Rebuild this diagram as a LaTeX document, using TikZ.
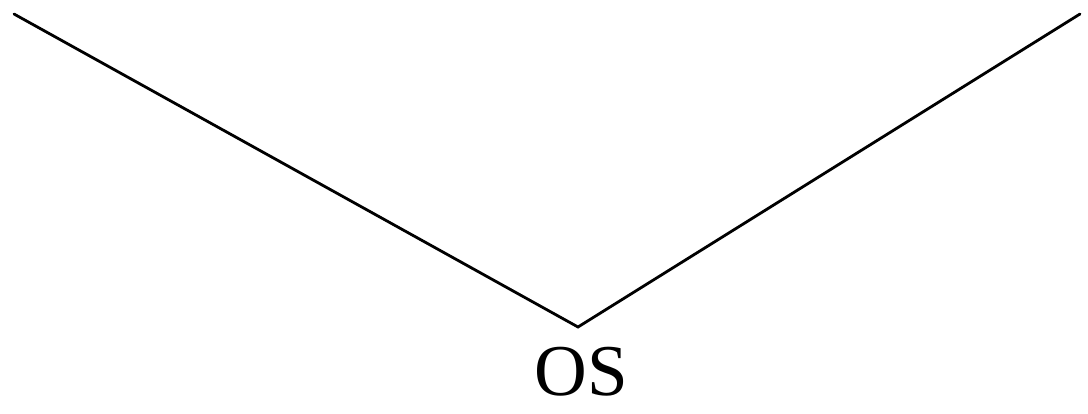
\documentclass[tikz,border=0pt]{standalone}
\usepackage{fontspec}
\setmainfont{Liberation Serif}
\begin{document}
\begin{tikzpicture}[x=1pt,y=-1pt,
  edge/.style={line width=2.8pt,line cap=round,line join=miter},
  lbl/.style={font=\fontsize{73}{80}\selectfont,inner sep=0pt,anchor=base}]
\useasboundingbox (0,0) rectangle (1088,413);
\coordinate (l) at (14,14);
\coordinate (r) at (1080,14);
\coordinate (v) at (578,327);
\draw[edge] (l) -- (v) -- (r);
\node[lbl] (os) at (581,395) {OS};
\end{tikzpicture}
\end{document}
